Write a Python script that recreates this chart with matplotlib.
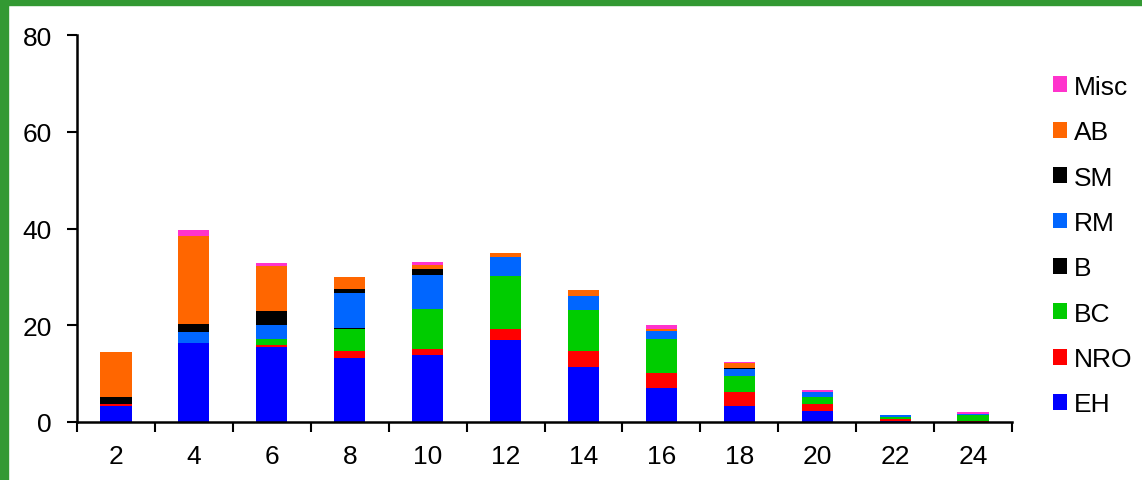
import numpy as np
import matplotlib
matplotlib.use("Agg")
import matplotlib.pyplot as plt
from matplotlib.patches import Rectangle

plt.rcParams['font.family'] = ['Liberation Sans', 'DejaVu Sans']

categorias = [2, 4, 6, 8, 10, 12, 14, 16, 18, 20, 22, 24]

EH = [3.3, 16.3, 15.6, 13.2, 13.8, 17.0, 11.3, 6.95, 3.4, 2.3, 0.3, 0.0]
NRO = [0.4, 0.0, 0.4, 1.5, 1.35, 2.15, 3.45, 3.1, 2.75, 1.5, 0.4, 0.15]
BC = [0.0, 0.0, 1.1, 4.5, 8.15, 10.95, 8.35, 7.15, 3.45, 1.4, 0.3, 1.2]
B = [0.0, 0.0, 0.0, 0.3, 0.0, 0.0, 0.0, 0.0, 0.0, 0.0, 0.0, 0.0]
RM = [0.0, 2.3, 3.0, 7.1, 7.1, 4.1, 3.0, 1.7, 1.45, 0.95, 0.4, 0.35]
SM = [1.5, 1.65, 2.8, 0.9, 1.2, 0.0, 0.0, 0.0, 0.2, 0.0, 0.0, 0.0]
AB = [9.3, 18.15, 9.3, 2.5, 0.8, 0.8, 1.1, 0.4, 0.85, 0.0, 0.0, 0.0]
Misc = [0.0, 1.3, 0.65, 0.0, 0.65, 0.0, 0.0, 0.7, 0.4, 0.5, 0.0, 0.3]

series = [("EH", EH, "#0000FF"),
          ("NRO", NRO, "#FF0000"),
          ("BC", BC, "#00CC00"),
          ("B", B, "#000000"),
          ("RM", RM, "#0066FF"),
          ("SM", SM, "#000000"),
          ("AB", AB, "#FF6600"),
          ("Misc", Misc, "#FF33CC")]

fig = plt.figure(figsize=(11.42, 4.81), dpi=100)
ax = fig.add_axes([77/1142, 58/481, (1012-77)/1142, (423-36)/481])

x = np.arange(len(categorias))
base = np.zeros(len(categorias))
handles = []
for nombre, vals, color in series:
    vals = np.array(vals)
    h = ax.bar(x, vals, width=0.4, bottom=base, color=color, label=nombre,
               edgecolor="none")
    handles.append(h)
    base = base + vals

ax.set_xlim(-0.5, len(categorias) - 0.5)
ax.set_ylim(0, 80)
ax.set_yticks([0, 20, 40, 60, 80])
ax.set_xticks(x)
ax.set_xticklabels([str(c) for c in categorias])
ax.set_xticks(np.arange(-0.5, len(categorias)), minor=True)
ax.tick_params(axis='x', which='major', length=0, pad=16, labelsize=19)
ax.tick_params(axis='x', which='minor', length=7, width=1.5, direction='out')
ax.tick_params(axis='y', length=7, width=1.5, direction='out', pad=11, labelsize=19)

for lado in ['top', 'right']:
    ax.spines[lado].set_visible(False)
for lado in ['left', 'bottom']:
    ax.spines[lado].set_linewidth(1.8)

leg = fig.legend(handles[::-1], [s[0] for s in series][::-1],
                 loc='upper left', bbox_to_anchor=(1029/1142, 1 - 52/481),
                 frameon=False, fontsize=19, handlelength=0.55,
                 handleheight=0.55, handletextpad=0.25, labelspacing=0.81)

# green frame
fig.patches.append(Rectangle((0, 0), 8/1142, 1, transform=fig.transFigure,
                             color="#339933", zorder=10))
fig.patches.append(Rectangle((0, 1 - 6/481), 1, 6/481, transform=fig.transFigure,
                             color="#339933", zorder=10))

fig.savefig("out.png", dpi=100)
